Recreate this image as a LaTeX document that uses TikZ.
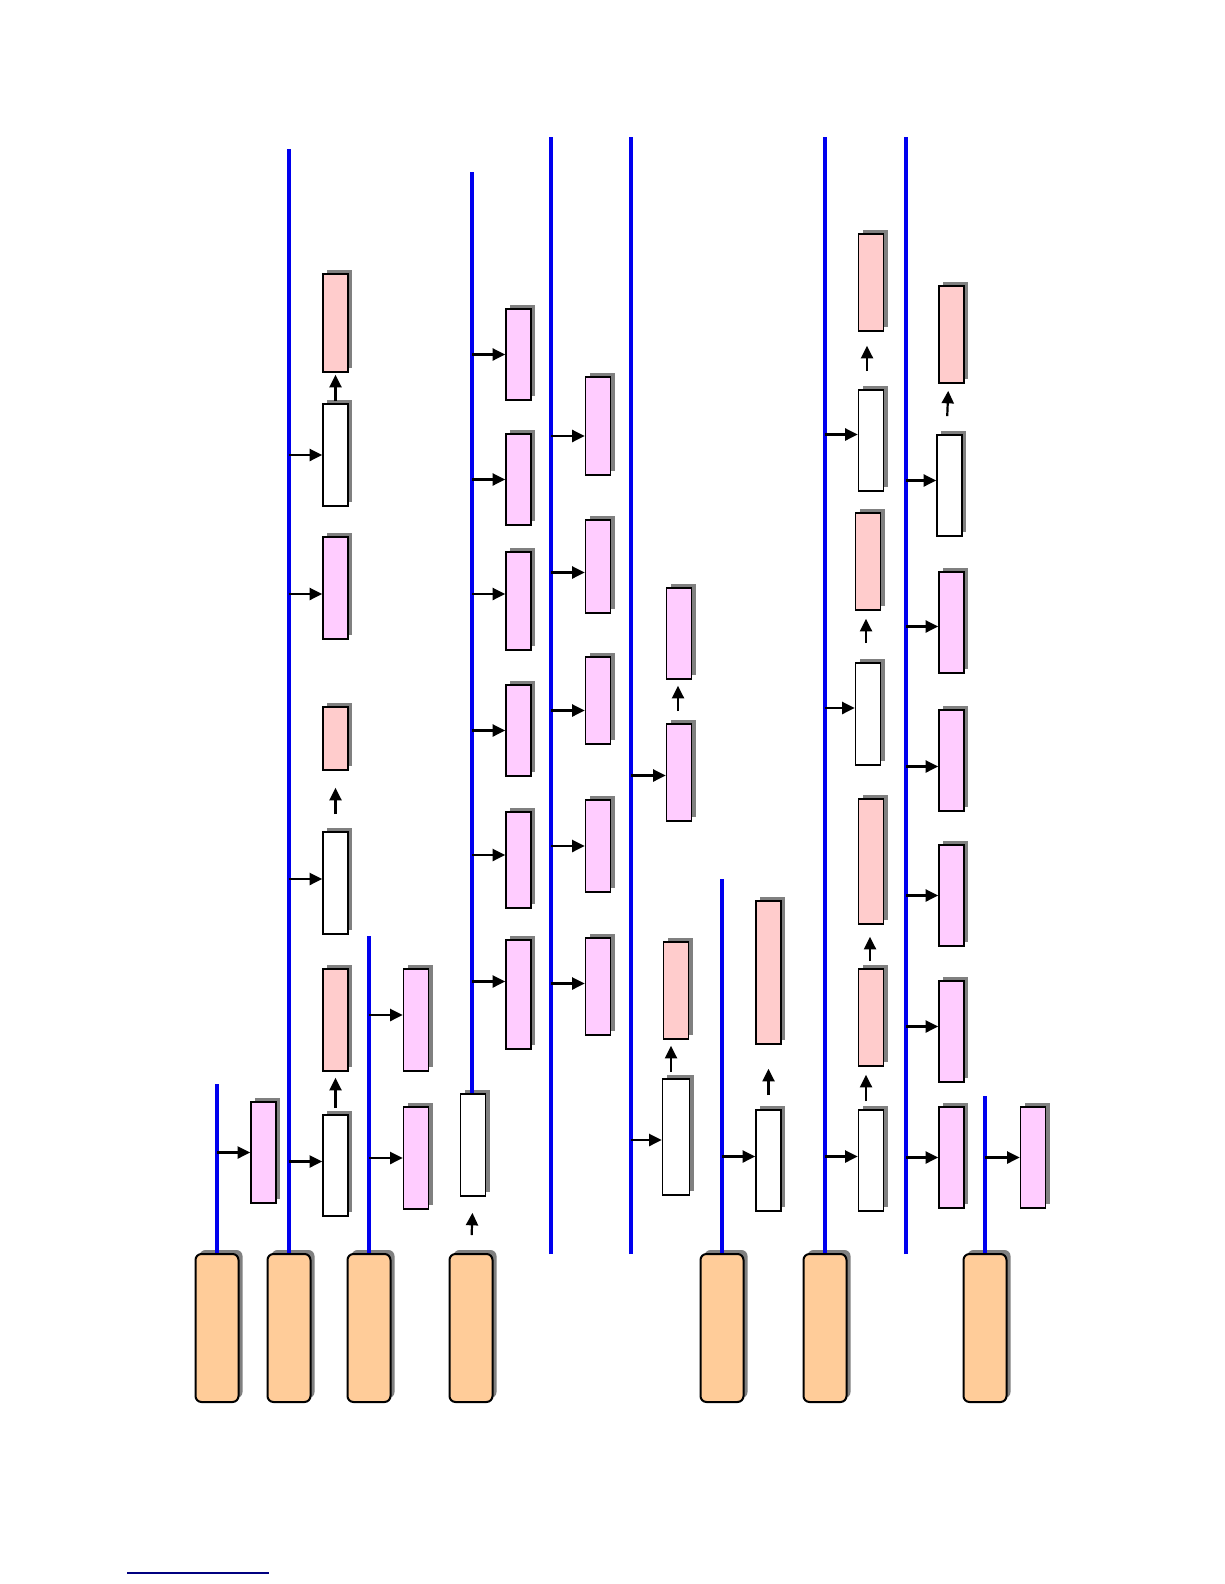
\documentclass[tikz,border=0pt]{standalone}
\usepackage{tikz}
\usetikzlibrary{
  arrows.meta,
  shadows
}
\definecolor{wire}{HTML}{0000EE}
\definecolor{navy}{HTML}{000080}
\definecolor{peach}{HTML}{FFCC99}
\definecolor{lilac}{HTML}{FFCCFF}
\definecolor{rose}{HTML}{FFCCCC}
\definecolor{shade}{HTML}{808080}
\tikzset{
  wireline/.style={
    draw=wire,
    line width=4pt
  },
  flow/.style={
    -{Triangle[length=12.5pt,width=12pt]},
    line width=2.2pt,
    draw=black
  },
  lift/.style={
    flow,
    shorten <=#1,
    shorten >=#1
  },
  box/.style={
    draw=black,
    line width=1.7pt,
    inner sep=0pt,
    minimum width=25pt,
    drop shadow={shadow xshift=4pt, shadow yshift=4pt, fill=shade, opacity=1}
  },
  plainbox/.style={box, fill=white},
  pinkbox/.style={box, fill=lilac},
  rosebox/.style={box, fill=rose},
  source/.style={
    draw=black,
    line width=2pt,
    fill=peach,
    rounded corners=6pt,
    inner sep=0pt,
    minimum width=43pt,
    minimum height=148pt,
    drop shadow={shadow xshift=4pt, shadow yshift=4pt, fill=shade, opacity=1}
  }
}

\begin{document}
\begin{tikzpicture}[x=1pt, y=-1pt]
  \useasboundingbox (0,0) rectangle (1224,1584);

  \node[source] (o1) at (217,1328) {};
  \node[source] (o2) at (289,1328) {};
  \node[source] (o3) at (369,1328) {};
  \node[source] (o4) at (471,1328) {};
  \node[source] (o5) at (722,1328) {};
  \node[source] (o6) at (825,1328) {};
  \node[source] (o7) at (985,1328) {};

  \coordinate (t1) at (217,1084);
  \coordinate (t2) at (289,149);
  \coordinate (t3) at (369,936);
  \coordinate (t4) at (472,172);
  \coordinate (t5) at (551,137);
  \coordinate (b5) at (551,1254);
  \coordinate (t6) at (631,137);
  \coordinate (b6) at (631,1254);
  \coordinate (t7) at (722,879);
  \coordinate (t8) at (825,137);
  \coordinate (t9) at (906,137);
  \coordinate (b9) at (906,1254);
  \coordinate (t10) at (985,1096);

  % boxes
  \node[pinkbox, minimum height=101pt] (p1) at (263.5,1152.5) {};

  \node[plainbox, minimum height=101pt] (w2a) at (335.5,1165.5) {};
  \node[rosebox, minimum height=102pt] (r2a) at (335.5,1020) {};
  \node[plainbox, minimum height=102pt] (w2b) at (335.5,883) {};
  \node[rosebox, minimum height=63pt] (r2b) at (335.5,738.5) {};
  \node[pinkbox, minimum height=102pt] (p2) at (335.5,588) {};
  \node[plainbox, minimum height=102pt] (w2c) at (335.5,455) {};
  \node[rosebox, minimum height=98pt] (r2c) at (335.5,323) {};

  \node[pinkbox, minimum height=102pt] (p3a) at (416,1158) {};
  \node[pinkbox, minimum height=102pt] (p3b) at (416,1020) {};

  \node[plainbox, minimum height=102pt] (w4) at (473,1145) {};
  \node[pinkbox, minimum height=109pt] (p4a) at (518.5,994.5) {};
  \node[pinkbox, minimum height=96pt] (p4b) at (518.5,860) {};
  \node[pinkbox, minimum height=91pt] (p4c) at (518.5,730.5) {};
  \node[pinkbox, minimum height=98pt] (p4d) at (518.5,601) {};
  \node[pinkbox, minimum height=91pt] (p4e) at (518.5,479.5) {};
  \node[pinkbox, minimum height=91pt] (p4f) at (518.5,354.5) {};

  \node[pinkbox, minimum height=97pt] (p5a) at (598,986.5) {};
  \node[pinkbox, minimum height=92pt] (p5b) at (598,846) {};
  \node[pinkbox, minimum height=87pt] (p5c) at (598,700.5) {};
  \node[pinkbox, minimum height=93pt] (p5d) at (598,566.5) {};
  \node[pinkbox, minimum height=98pt] (p5e) at (598,426) {};

  \node[plainbox, minimum height=116pt, minimum width=27pt] (w6) at (676,1137) {};
  \node[rosebox, minimum height=97pt] (r6) at (676,990.5) {};
  \node[pinkbox, minimum height=97pt] (p6a) at (679,772.5) {};
  \node[pinkbox, minimum height=91pt] (p6b) at (679,633.5) {};

  \node[plainbox, minimum height=101pt] (w7) at (768.5,1160.5) {};
  \node[rosebox, minimum height=143pt] (r7) at (768.5,972.5) {};

  \node[plainbox, minimum height=101pt] (w8a) at (871,1160.5) {};
  \node[rosebox, minimum height=97pt] (r8a) at (871,1017.5) {};
  \node[rosebox, minimum height=125pt] (r8b) at (871,861.5) {};
  \node[plainbox, minimum height=102pt] (w8b) at (868,714) {};
  \node[rosebox, minimum height=97pt] (r8c) at (868,561.5) {};
  \node[plainbox, minimum height=101pt] (w8c) at (871,440.5) {};
  \node[rosebox, minimum height=97pt] (r8d) at (871,282.5) {};

  \node[pinkbox, minimum height=101pt] (p9a) at (951.5,1157.5) {};
  \node[pinkbox, minimum height=101pt] (p9b) at (951.5,1031.5) {};
  \node[pinkbox, minimum height=101pt] (p9c) at (951.5,895.5) {};
  \node[pinkbox, minimum height=101pt] (p9d) at (951.5,760.5) {};
  \node[pinkbox, minimum height=101pt] (p9e) at (951.5,622.5) {};
  \node[plainbox, minimum height=101pt] (w9) at (949.5,485.5) {};
  \node[rosebox, minimum height=97pt] (r9) at (951.5,334.5) {};

  \node[pinkbox, minimum height=101pt] (p10) at (1033,1157.5) {};

  % wires
  \draw[wireline] (o1.north) -- (t1);
  \draw[wireline] (o2.north) -- (t2);
  \draw[wireline] (o3.north) -- (t3);
  \draw[wireline] (t4 |- w4.north) -- (t4);
  \draw[wireline] (b5) -- (t5);
  \draw[wireline] (b6) -- (t6);
  \draw[wireline] (o5.north) -- (t7);
  \draw[wireline] (o6.north) -- (t8);
  \draw[wireline] (b9) -- (t9);
  \draw[wireline] (o7.north) -- (t10);

  % feeds
  \draw[flow] (t1 |- p1.west) -- (p1.west);

  \draw[flow] ([yshift=4pt]t2 |- w2a.west) -- ([yshift=4pt]w2a.west);
  \draw[flow] ([yshift=4pt]t2 |- w2b.west) -- ([yshift=4pt]w2b.west);
  \draw[flow] ([yshift=-6pt]t2 |- p2.west) -- ([yshift=-6pt]p2.west);
  \draw[flow] (t2 |- w2c.west) -- (w2c.west);

  \draw[flow] (t3 |- p3a.west) -- (p3a.west);
  \draw[flow] ([yshift=5pt]t3 |- p3b.west) -- ([yshift=5pt]p3b.west);

  \draw[flow] ([yshift=13pt]t4 |- p4a.west) -- ([yshift=13pt]p4a.west);
  \draw[flow] ([yshift=5pt]t4 |- p4b.west) -- ([yshift=5pt]p4b.west);
  \draw[flow] (t4 |- p4c.west) -- (p4c.west);
  \draw[flow] ([yshift=7pt]t4 |- p4d.west) -- ([yshift=7pt]p4d.west);
  \draw[flow] (t4 |- p4e.west) -- (p4e.west);
  \draw[flow] (t4 |- p4f.west) -- (p4f.west);

  \draw[flow] ([yshift=3pt]t5 |- p5a.west) -- ([yshift=3pt]p5a.west);
  \draw[flow] (t5 |- p5b.west) -- (p5b.west);
  \draw[flow] ([yshift=-10pt]t5 |- p5c.west) -- ([yshift=-10pt]p5c.west);
  \draw[flow] ([yshift=-6pt]t5 |- p5d.west) -- ([yshift=-6pt]p5d.west);
  \draw[flow] ([yshift=-10pt]t5 |- p5e.west) -- ([yshift=-10pt]p5e.west);

  \draw[flow] ([yshift=-3pt]t6 |- w6.west) -- ([yshift=-3pt]w6.west);
  \draw[flow] ([yshift=-3pt]t6 |- p6a.west) -- ([yshift=-3pt]p6a.west);

  \draw[flow] ([yshift=4pt]t7 |- w7.west) -- ([yshift=4pt]w7.west);

  \draw[flow] ([yshift=4pt]t8 |- w8a.west) -- ([yshift=4pt]w8a.west);
  \draw[flow] ([yshift=6pt]t8 |- w8b.west) -- ([yshift=6pt]w8b.west);
  \draw[flow] ([yshift=6pt]t8 |- w8c.west) -- ([yshift=6pt]w8c.west);

  \draw[flow] (t9 |- p9a.west) -- (p9a.west);
  \draw[flow] ([yshift=5pt]t9 |- p9b.west) -- ([yshift=5pt]p9b.west);
  \draw[flow] (t9 |- p9c.west) -- (p9c.west);
  \draw[flow] ([yshift=-6pt]t9 |- p9d.west) -- ([yshift=-6pt]p9d.west);
  \draw[flow] ([yshift=-4pt]t9 |- p9e.west) -- ([yshift=-4pt]p9e.west);
  \draw[flow] ([yshift=5pt]t9 |- w9.west) -- ([yshift=5pt]w9.west);

  \draw[flow] (t10 |- p10.west) -- (p10.west);

  % steps up
  \draw[lift=6pt] (w2a.north) -- (r2a.south);
  \draw[lift=17pt] (w2b.north) -- (r2b.south);
  \draw[lift=2pt] (w2c.north) -- (r2c.south);
  \draw[flow, shorten <=18pt, shorten >=16pt] (o4.north) -- (w4.south);
  \draw[lift=6pt] ([xshift=-5pt]w6.north) -- ([xshift=-5pt]r6.south);
  \draw[flow, shorten <=12pt, shorten >=6pt] ([xshift=-1pt]p6a.north) -- ([xshift=-1pt]p6b.south);
  \draw[flow, shorten <=14pt, shorten >=24pt] (w7.north) -- (r7.south);
  \draw[lift=8pt] ([xshift=-5pt]w8a.north) -- ([xshift=-5pt]r8a.south);
  \draw[flow, shorten <=7pt, shorten >=12pt] ([xshift=-1pt]r8a.north) -- ([xshift=-1pt]r8b.south);
  \draw[flow, shorten <=19pt, shorten >=8pt] ([xshift=-2pt]w8b.north) -- ([xshift=-2pt]r8c.south);
  \draw[flow, shorten <=18pt, shorten >=14pt] ([xshift=-4pt]w8c.north) -- ([xshift=-4pt]r8d.south);
  \draw[flow, shorten <=18pt, shorten >=7pt] ([xshift=-3pt]w9.north) -- ([xshift=-3pt]r9.south);

  \coordinate (n1) at (127,1573);
  \coordinate (n2) at (269,1573);
  \draw[navy, line width=2pt] (n1) -- (n2);
\end{tikzpicture}
\end{document}
